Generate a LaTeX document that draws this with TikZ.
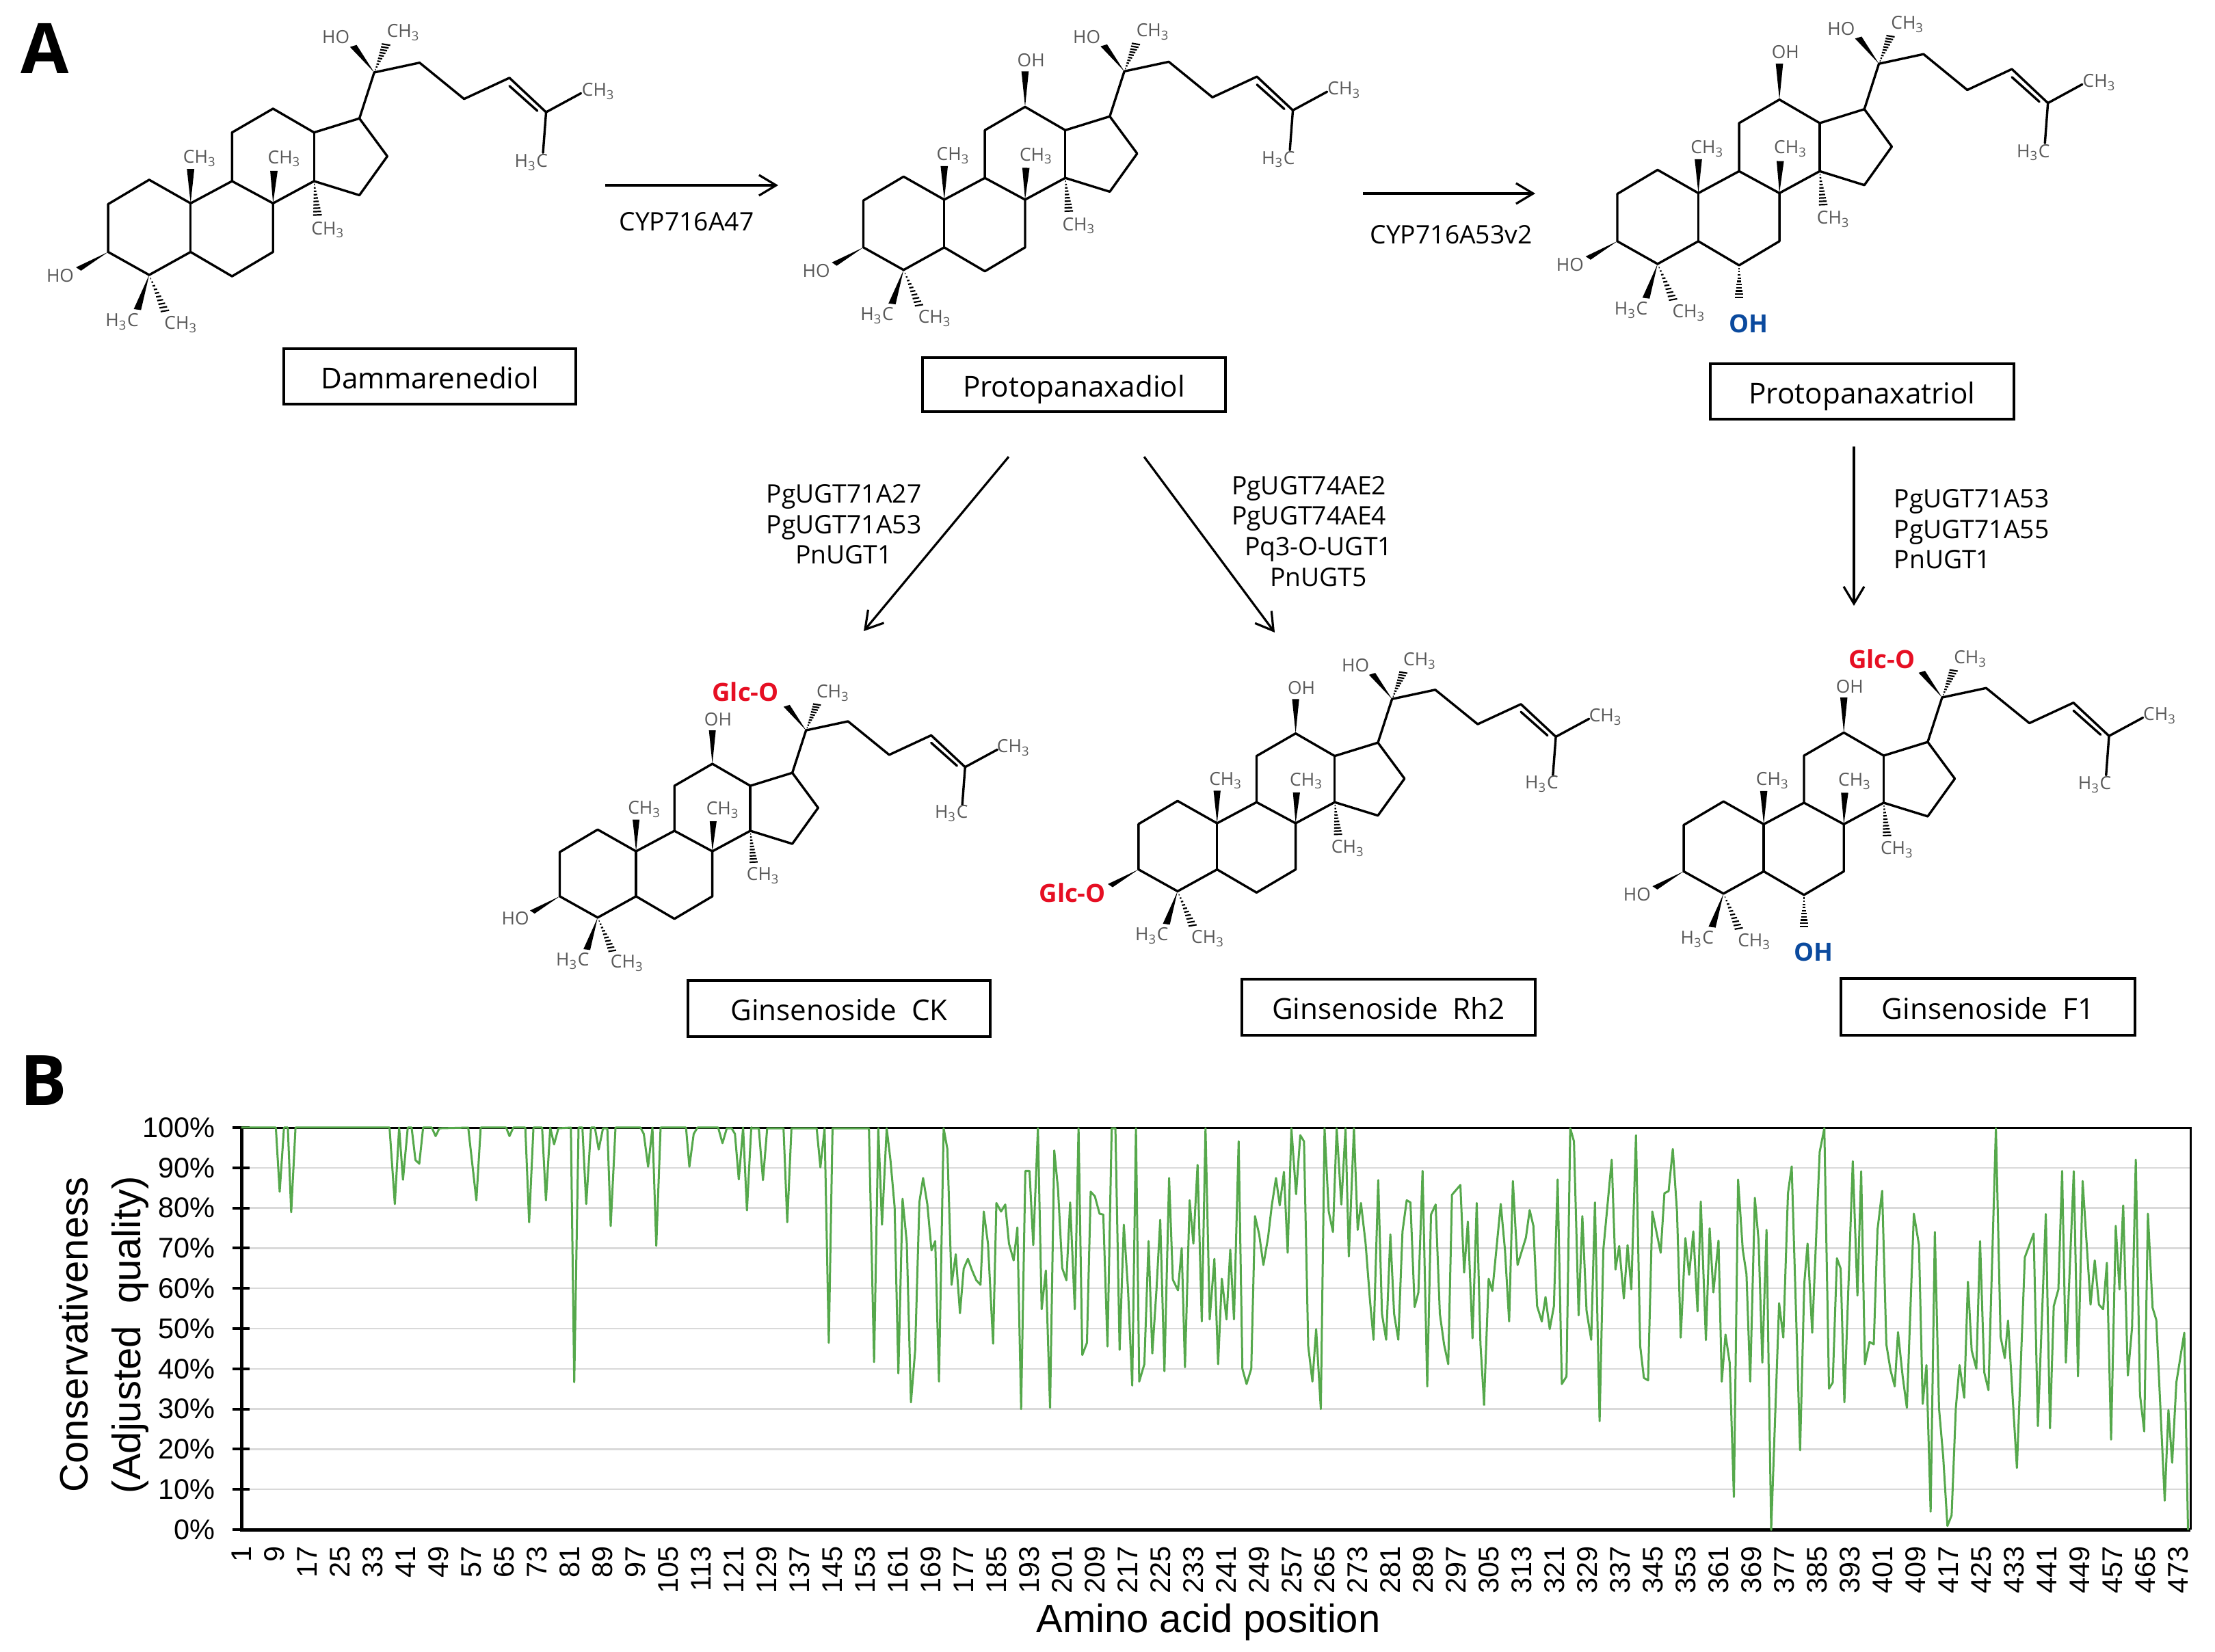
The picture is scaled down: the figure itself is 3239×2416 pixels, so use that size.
\documentclass[tikz,border=0pt]{standalone}
\usepackage{fontspec}
\setmainfont{Open Sans}
\newfontfamily\chartfont{Liberation Sans}
\usepackage{tikz}
\usetikzlibrary{calc,arrows.meta}

\definecolor{tracegreen}{HTML}{55A84B}
\definecolor{glcred}{HTML}{E60F23}
\definecolor{ohblue}{HTML}{0B4A9E}

\tikzset{
	bondline/.style={line width=.034cm, line join=round, line cap=round},
	hashline/.style={line width=.022cm},
	grouplabel/.style={text=black!65, font=\fontsize{7.5}{9}\selectfont, inner sep=0pt},
	glclabel/.style={text=glcred, font=\fontsize{10.4}{12}\selectfont\bfseries, inner sep=0pt},
	ohlabel/.style={text=ohblue, font=\fontsize{10.4}{12}\selectfont\bfseries, inner sep=0pt},
	namebox/.style={draw, line width=.035cm, font=\fontsize{12}{14}\selectfont, text height=11pt, text depth=1pt},
	enzyme/.style={font=\fontsize{10.6}{12.7}\selectfont, inner sep=0pt},
	reaction/.style={line width=.032cm, -{Straight Barb[length=.25cm,width=.3cm]}},
	panel/.style={font=\fontsize{29}{32}\selectfont\bfseries, inner sep=0pt},
	gridline/.style={draw=black!15, line width=.025cm},
	tracepart/.style={draw=tracegreen, line width=.03cm, line join=round},
	ticklabel/.style={font=\chartfont\fontsize{11.8}{13}\selectfont, inner sep=0pt},
	axistitle/.style={font=\chartfont\fontsize{16.5}{22}\selectfont, inner sep=0pt}
}

\newcommand{\methyl}{CH\textsubscript{3}}
\newcommand{\methylrev}{H\textsubscript{3}C}
\newcommand{\wedgebond}[2]{\fill #1 -- ($#2!.085cm!90:#1$) -- ($#2!.085cm!-90:#1$) -- cycle;}
\newcommand{\hashbond}[2]{\foreach \hpos in {.1,.2,...,1} {
		\pgfmathsetmacro\hw{.1*\hpos}
		\draw[hashline] ($#1!\hpos!#2!\hw cm!90:#1$) -- ($#1!\hpos!#2!\hw cm!-90:#1$);
	}}
% name, shift x, shift y, xscale, yscale, what differs between the molecules
\newcommand{\skeleton}[6]{
	\begin{scope}[shift={(#2,#3)}, xscale=#4, yscale=#5]
		\draw[bondline] (248,755) -- (342,665) -- (437,752) -- (532,670) -- (626,752) -- (720,670) -- (824,722) -- (888,578) -- (824,438) -- (720,490) -- (626,402) -- (532,490) -- (532,670);
		\draw[bondline] (248,755) -- (248,932) -- (342,1017) -- (437,932) -- (532,1022) -- (626,932) -- (626,752);
		\draw[bondline] (437,752) -- (437,932);
		\draw[bondline] (720,670) -- (720,490);
		\draw[bondline] (824,438) -- (858,268) -- (962,232) -- (1064,366) -- (1168,288) -- (1252,415) -- (1332,345);
		\draw[bondline] (1252,415) -- (1245,565);
		\draw[bondline] (1168,318) -- (1232,410);
		\wedgebond{(248,932)}{(180,995)}
		\wedgebond{(342,1017)}{(315,1145)}
		\wedgebond{(437,752)}{(437,625)}
		\wedgebond{(626,752)}{(628,632)}
		\wedgebond{(858,268)}{(810,170)}
		\hashbond{(342,1017)}{(378,1150)}
		\hashbond{(720,670)}{(728,795)}
		\hashbond{(858,268)}{(885,165)}
		\node[grouplabel] (#1h3c) at (280,1190) {\methylrev};
		\node[grouplabel] (#1c4me) at (415,1200) {\methyl};
		\node[grouplabel] (#1c10me) at (458,585) {\methyl};
		\node[grouplabel] (#1c8me) at (652,587) {\methyl};
		\node[grouplabel] (#1c14me) at (752,850) {\methyl};
		\node[grouplabel] (#1c20me) at (925,120) {\methyl};
		\node[grouplabel] (#1endme) at (1372,338) {\methyl};
		\node[grouplabel] (#1endh3c) at (1218,600) {\methylrev};
		#6
	\end{scope}
}
\newcommand{\hydroxyltwelve}[1]{
	\wedgebond{(626,402)}{(626,268)}
	\node[grouplabel] (#1oh12) at (640,225) {OH};
}
\newcommand{\hydroxylsix}[1]{
	\hashbond{(532,1022)}{(532,1142)}
	\node[ohlabel] (#1oh6) at (554,1240) {OH};
}

\begin{document}
\begin{tikzpicture}[x=.01cm, y=-.01cm]
	\useasboundingbox (0,0) rectangle (3239,2416);

	\node[panel] (panela) at (66,71) {A};
	\node[panel] (panelb) at (64,1580) {B};

	\skeleton{dam}{0}{0}{.6378}{.3954}{
		\node[grouplabel] (damho3) at (138,1020) {HO};
		\node[grouplabel] (damho20) at (770,138) {HO};
	}
	\skeleton{ppd}{1107.4}{.4}{.6255}{.3878}{
		\hydroxyltwelve{ppd}
		\node[grouplabel] (ppdho3) at (138,1020) {HO};
		\node[grouplabel] (ppdho20) at (770,138) {HO};
	}
	\skeleton{ppt}{2209.4}{-11.5}{.6272}{.3909}{
		\hydroxyltwelve{ppt}
		\hydroxylsix{ppt}
		\node[grouplabel] (pptho3) at (138,1020) {HO};
		\node[grouplabel] (pptho20) at (770,138) {HO};
	}
	\skeleton{ck}{672.1}{970.1}{.5904}{.3656}{
		\hydroxyltwelve{ck}
		\node[grouplabel] (ckho3) at (138,1020) {HO};
		\node[glclabel] (ckglc) at (708,115) {Glc-O};
	}
	\skeleton{rh}{1514.1}{921.7}{.6078}{.3754}{
		\hydroxyltwelve{rh}
		\node[glclabel] (rhglc) at (89,1022) {Glc-O};
		\node[grouplabel] (rhho20) at (770,138) {HO};
	}
	\skeleton{fone}{2308.4}{917.4}{.6195}{.383}{
		\hydroxyltwelve{fone}
		\hydroxylsix{fone}
		\node[grouplabel] (foneho3) at (138,1020) {HO};
		\node[glclabel] (foneglc) at (716,122) {Glc-O};
	}

	\node[namebox, minimum width=4.27cm, minimum height=.81cm] (dammarenediol) at (628.5,550.5) {Dammarenediol};
	\node[namebox, minimum width=4.43cm, minimum height=.79cm] (protopanaxadiol) at (1570.5,562.5) {Protopanaxadiol};
	\node[namebox, minimum width=4.44cm, minimum height=.81cm] (protopanaxatriol) at (2723,572.5) {Protopanaxatriol};
	\node[namebox, minimum width=4.42cm, minimum height=.82cm] (ginsenck) at (1227,1475) {Ginsenoside\ \ CK};
	\node[namebox, minimum width=4.29cm, minimum height=.82cm] (ginsenrh) at (2030.5,1473) {Ginsenoside\ \ Rh2};
	\node[namebox, minimum width=4.30cm, minimum height=.83cm] (ginsenf) at (2907,1472.5) {Ginsenoside\ \ F1};

	\coordinate (cypastart) at (885,271);
	\coordinate (cypaend) at (1138,271);
	\coordinate (cypbstart) at (1993,283);
	\coordinate (cypbend) at (2245,283);
	\coordinate (ckstart) at (1475,668);
	\coordinate (ckend) at (1263,923);
	\coordinate (rhstart) at (1673,668);
	\coordinate (rhend) at (1864,925);
	\coordinate (fstart) at (2711,653);
	\coordinate (fend) at (2711,886);
	\draw[reaction] (cypastart) -- (cypaend);
	\draw[reaction] (cypbstart) -- (cypbend);
	\draw[reaction] (ckstart) -- (ckend);
	\draw[reaction] (rhstart) -- (rhend);
	\draw[reaction] (fstart) -- (fend);

	\node[enzyme] (cypa) at (1004,324) {CYP716A47};
	\node[enzyme] (cypb) at (2122,343) {CYP716A53v2};
	\node[enzyme, align=center] (ckenz) at (1234,767) {PgUGT71A27\\PgUGT71A53\\PnUGT1};
	\node[enzyme, align=center] (rhenz) at (1914,777) {PgUGT74AE2\\PgUGT74AE4\\\hspace{8pt}Pq3-O-UGT1\\\hspace{8pt}PnUGT5};
	\node[enzyme, align=left, anchor=west] (fenz) at (2769,774) {PgUGT71A53\\PgUGT71A55\\PnUGT1};

	% conservation chart
	\foreach \v in {10,20,...,90} {
		\draw[gridline] (353,2237-5.88*\v) -- (3203,2237-5.88*\v);
	}
	\draw[line width=.03cm] (353,1649) -- (3203,1649) -- (3203,2237);
	\draw[line width=.05cm] (353,1649) -- (353,2237) -- (3203,2237);
	\foreach \v in {0,10,...,100} {
		\draw[line width=.04cm] (340,2237-5.88*\v) -- (365,2237-5.88*\v);
		\node[ticklabel, anchor=east] (ylab\v) at (315,2237-5.88*\v) {\v\%};
	}
	\foreach \i in {1,9,...,473} {
		\node[ticklabel, rotate=90, anchor=east] (xlab\i) at (353+6*\i-6,2261) {\i};
	}
	\node[axistitle] (xtitle) at (1767,2372) {Amino acid position};
	\node[axistitle, rotate=90, align=center] (ytitle) at (152,1952) {Conservativeness\\(Adjusted\ \ quality)};

	\begin{scope}[shift={(0,1560)}, xscale=.7015, yscale=.5459]
		\draw[tracepart] plot coordinates {(503,163)(575,163)(583,335)(592,163)(600,163)(607,390)(616,163)(812,163)(823,368)(832,163)(840,303)(850,163)(858,163)(866,250)(874,260)(882,163)(900,163)(908,186)(916,165)(976,163)(993,358)(1002,163)(1055,163)(1062,186)(1070,163)(1095,163)(1103,417)(1112,163)(1130,163)(1138,358)(1147,163)(1155,208)(1164,165)(1190,163)(1197,845)(1206,163)(1214,163)(1222,368)(1232,163)(1240,163)(1248,222)(1257,165)(1266,165)(1273,427)(1283,163)(1335,163)(1342,180)(1351,268)(1360,163)(1368,480)(1377,163)(1430,163)(1437,268)(1446,180)(1454,163)(1497,163)(1506,205)(1515,165)(1525,165)(1532,180)(1540,302)(1549,163)(1557,385)(1566,163)(1568,163)};
	\end{scope}
	\begin{scope}[shift={(1100,1600)}, xscale=.6826, yscale=.4464]
		\draw[tracepart] plot coordinates {(0,112)(14,112)(23,282)(32,112)(67,112)(75,420)(84,112)(138,112)(146,240)(155,112)(164,815)(172,112)(250,112)(261,878)(270,112)(278,428)(288,112)(296,215)(305,370)(313,915)(322,343)(331,485)(340,1010)(349,840)(358,355)(366,275)(375,360)(384,512)(392,482)(400,942)(410,112)(418,180)(427,625)(436,525)(445,718)(453,572)(462,540)(471,578)(480,610)(489,625)(496,385)(505,490)(516,818)(523,357)(533,385)(542,362)(550,490)(560,545)(568,437)(576,1032)(585,252)(594,252)(602,495)(612,112)(620,705)(629,578)(638,1028)(647,185)(655,310)(664,570)(673,610)(681,355)(691,705)(699,112)(707,855)(717,815)(725,320)(734,335)(744,392)(752,395)(761,827)(770,112)(778,112)(787,838)(796,428)(805,640)(814,955)(822,112)(829,942)(840,885)(849,482)(857,850)(866,640)(874,412)(883,908)(893,275)(901,608)(912,643)(920,505)(927,895)(937,348)(945,490)(954,232)(963,745)(971,112)(980,738)(990,540)(998,885)(1006,605)(1016,738)(1024,510)(1032,738)(1042,155)(1050,900)(1059,950)(1069,900)(1077,400)(1086,460)(1095,560)(1105,470)(1113,365)(1122,275)(1130,365)(1139,255)(1147,520)(1155,112)(1165,328)(1174,135)(1182,155)(1191,825)(1200,942)(1208,770)(1218,1032)(1226,112)(1235,385)(1244,452)(1252,112)(1262,362)(1271,112)(1278,532)(1289,112)(1297,445)(1304,357)(1314,490)(1323,670)(1331,805)(1341,282)(1349,720)(1358,805)(1367,460)(1375,720)(1384,805)(1393,450)(1402,348)(1410,355)(1419,698)(1427,650)(1436,252)(1446,958)(1454,395)(1464,362)(1473,720)(1482,820)(1491,885)(1499,330)(1517,298)(1525,585)(1533,418)(1543,800)(1552,357)(1560,820)(1568,1020)};
	\end{scope}
	\begin{scope}[shift={(2170,1600)}, xscale=.6818, yscale=.4464]
		\draw[tracepart] plot coordinates {(0,1020)(10,605)(18,645)(36,360)(45,510)(54,745)(62,285)(72,560)(90,470)(98,380)(106,432)(114,695)(124,745)(132,665)(141,770)(150,695)(158,280)(167,950)(177,925)(185,112)(193,155)(203,725)(211,400)(220,710)(230,805)(238,355)(248,1072)(256,510)(274,215)(282,575)(290,498)(300,670)(308,495)(316,640)(326,135)(335,825)(343,930)(352,938)(361,385)(379,520)(387,325)(396,318)(405,180)(414,385)(422,798)(432,472)(440,592)(449,450)(458,712)(465,352)(476,806)(484,440)(492,650)(503,480)(510,942)(518,788)(527,880)(536,1320)(545,280)(555,510)(563,590)(571,942)(581,340)(589,480)(597,880)(606,445)(616,1428)(633,685)(642,798)(652,325)(660,237)(678,1167)(687,620)(694,490)(704,782)(720,190)(730,112)(740,965)(748,945)(757,538)(765,572)(773,1010)(791,220)(801,660)(809,253)(817,885)(827,812)(836,820)(844,445)(854,317)(863,820)(872,905)(881,958)(888,780)(898,925)(907,1028)(922,392)(933,495)(941,1015)(949,888)(958,1368)(967,452)(976,1030)(985,1190)(994,1415)(1003,1380)(1012,1030)(1020,888)(1030,995)(1038,615)(1046,840)(1056,900)(1064,482)(1073,912)(1082,970)(1098,112)(1108,795)(1117,865)(1124,742)(1143,1225)(1160,535)(1179,457)(1188,1088)(1205,393)(1214,1095)(1222,695)(1232,640)(1240,252)(1248,880)(1265,253)(1274,925)(1284,285)(1301,690)(1310,545)(1319,690)(1328,705)(1336,553)(1345,1132)(1355,432)(1363,640)(1371,365)(1381,922)(1390,765)(1398,215)(1407,985)(1416,1105)(1424,392)(1434,700)(1442,740)(1460,1332)(1468,1035)(1476,1208)(1485,945)(1502,782)(1510,1428)};
	\end{scope}
\end{tikzpicture}
\end{document}
